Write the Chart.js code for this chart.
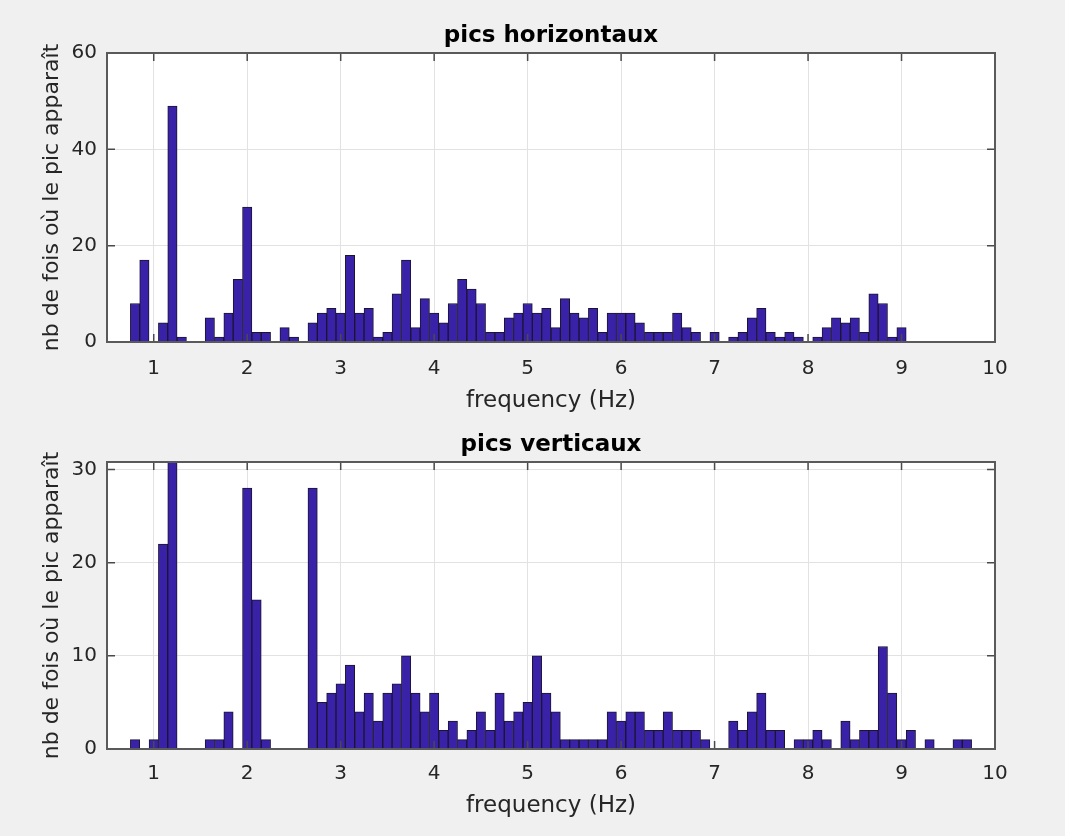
<!DOCTYPE html>
<html>
<head>
<meta charset="utf-8">
<script src="https://cdn.jsdelivr.net/npm/chart.js@4.4.1/dist/chart.umd.min.js"></script>
<style>
  body { margin: 0; background: #f0f0f0; }
  .pane { position: absolute; left: 0; width: 1065px; height: 418px; }
</style>
</head>
<body>
<div class="pane" style="top:0"><canvas id="horizCanvas"></canvas></div>
<div class="pane" style="top:418px"><canvas id="vertCanvas"></canvas></div>
<script>
// bin centres (Hz), 0.1 Hz wide
var binCenters = [0.8, 0.9, 1.0, 1.1, 1.2, 1.3, 1.4, 1.5, 1.6, 1.7,
                  1.8, 1.9, 2.0, 2.1, 2.2, 2.3, 2.4, 2.5, 2.6, 2.7,
                  2.8, 2.9, 3.0, 3.1, 3.2, 3.3, 3.4, 3.5, 3.6, 3.7,
                  3.8, 3.9, 4.0, 4.1, 4.2, 4.3, 4.4, 4.5, 4.6, 4.7,
                  4.8, 4.9, 5.0, 5.1, 5.2, 5.3, 5.4, 5.5, 5.6, 5.7,
                  5.8, 5.9, 6.0, 6.1, 6.2, 6.3, 6.4, 6.5, 6.6, 6.7,
                  6.8, 6.9, 7.0, 7.1, 7.2, 7.3, 7.4, 7.5, 7.6, 7.7,
                  7.8, 7.9, 8.0, 8.1, 8.2, 8.3, 8.4, 8.5, 8.6, 8.7,
                  8.8, 8.9, 9.0, 9.1, 9.2, 9.3, 9.4, 9.5, 9.6, 9.7];

var picsHorizontaux = [8, 17, 0, 4, 49, 1, 0, 0, 5, 1,
                       6, 13, 28, 2, 2, 0, 3, 1, 0, 4,
                       6, 7, 6, 18, 6, 7, 1, 2, 10, 17,
                       3, 9, 6, 4, 8, 13, 11, 8, 2, 2,
                       5, 6, 8, 6, 7, 3, 9, 6, 5, 7,
                       2, 6, 6, 6, 4, 2, 2, 2, 6, 3,
                       2, 0, 2, 0, 1, 2, 5, 7, 2, 1,
                       2, 1, 0, 1, 3, 5, 4, 5, 2, 10,
                       8, 1, 3, 0, 0, 0, 0, 0, 0, 0];

var picsVerticaux = [1, 0, 1, 22, 31, 0, 0, 0, 1, 1,
                     4, 0, 28, 16, 1, 0, 0, 0, 0, 28,
                     5, 6, 7, 9, 4, 6, 3, 6, 7, 10,
                     6, 4, 6, 2, 3, 1, 2, 4, 2, 6,
                     3, 4, 5, 10, 6, 4, 1, 1, 1, 1,
                     1, 4, 3, 4, 4, 2, 2, 4, 2, 2,
                     2, 1, 0, 0, 3, 2, 4, 6, 2, 2,
                     0, 1, 1, 2, 1, 0, 3, 1, 2, 2,
                     11, 6, 1, 2, 0, 1, 0, 0, 1, 1];

var xTicks = [1, 2, 3, 4, 5, 6, 7, 8, 9, 10];
var yTicksHoriz = [0, 20, 40, 60];
var yTicksVert = [0, 10, 20, 30];

var FONT = '"DejaVu Sans", sans-serif';
var TEXT = '#262626';

// white axes background, title over the axes, full box and inward ticks like matlab
var axesBox = {
    id: 'axesBox',
    beforeDraw: function(chart) {
        var a = chart.chartArea, ctx = chart.ctx;
        ctx.save();
        ctx.fillStyle = '#ffffff';
        ctx.fillRect(a.left, a.top, a.right - a.left, a.bottom - a.top);
        ctx.restore();
    },
    afterDraw: function(chart, args, opts) {
        var a = chart.chartArea, ctx = chart.ctx;
        var xs = chart.scales.x, ys = chart.scales.y;
        ctx.save();
        ctx.strokeStyle = '#4a4a4a';
        ctx.lineWidth = 1.5;
        ctx.beginPath();
        xs.ticks.forEach(function(t) {
            var px = xs.getPixelForValue(t.value);
            ctx.moveTo(px, a.bottom); ctx.lineTo(px, a.bottom - 8);
            ctx.moveTo(px, a.top); ctx.lineTo(px, a.top + 8);
        });
        ys.ticks.forEach(function(t) {
            var py = ys.getPixelForValue(t.value);
            ctx.moveTo(a.left, py); ctx.lineTo(a.left + 8, py);
            ctx.moveTo(a.right, py); ctx.lineTo(a.right - 8, py);
        });
        ctx.stroke();
        ctx.lineWidth = 2;
        ctx.strokeStyle = '#5a5a5a';
        ctx.strokeRect(a.left, a.top, a.right - a.left, a.bottom - a.top);

        ctx.fillStyle = '#000';
        ctx.font = 'bold 23px ' + FONT;
        ctx.textAlign = 'center';
        ctx.textBaseline = 'middle';
        ctx.fillText(opts.title, (a.left + a.right) / 2, opts.titleY);
        ctx.restore();
    }
};

function makeHist(id, title, values, yMax, yTicks, lay) {
    var ctx = document.getElementById(id).getContext('2d');
    return new Chart(ctx, {
        type: 'bar',
        data: {
            datasets: [{
                data: binCenters.map(function(x, i) { return {x: x, y: values[i]}; }),
                backgroundColor: '#3a22a8',
                borderColor: '#1c1430',
                borderWidth: 1,
                barPercentage: 1,
                categoryPercentage: 1
            }]
        },
        options: {
            responsive: true,
            maintainAspectRatio: false,
            animation: false,
            layout: { padding: { left: 0, right: 70, top: lay.top, bottom: 0 } },
            plugins: {
                legend: { display: false },
                tooltip: { enabled: false },
                title: { display: false },
                axesBox: { title: title, titleY: lay.titleY }
            },
            scales: {
                x: {
                    type: 'linear',
                    min: 0.5,
                    max: 10,
                    offset: false,
                    afterBuildTicks: function(s) { s.ticks = xTicks.map(function(v) { return {value: v}; }); },
                    afterFit: function(s) { s.height = lay.xHeight; },
                    grid: { color: '#e2e2e2', lineWidth: 1, offset: false, drawTicks: false },
                    border: { display: false },
                    ticks: { color: TEXT, padding: lay.xTickPad, font: { family: FONT, size: 20 }, maxRotation: 0 },
                    title: {
                        display: true,
                        text: 'frequency (Hz)',
                        color: TEXT,
                        font: { family: FONT, size: 23 },
                        padding: { top: 0, bottom: lay.xTitleBottom }
                    }
                },
                y: {
                    min: 0,
                    max: yMax,
                    afterBuildTicks: function(s) { s.ticks = yTicks.map(function(v) { return {value: v}; }); },
                    afterFit: function(s) { s.width = 107; },
                    grid: { color: '#e2e2e2', lineWidth: 1, drawTicks: false },
                    border: { display: false },
                    ticks: { color: TEXT, padding: 10, font: { family: FONT, size: 20 } },
                    title: {
                        display: true,
                        text: 'nb de fois où le pic apparaît',
                        color: TEXT,
                        font: { family: FONT, size: 22 },
                        padding: { top: 39, bottom: 0 }
                    }
                }
            }
        },
        plugins: [axesBox]
    });
}

makeHist('horizCanvas', 'pics horizontaux', picsHorizontaux, 60, yTicksHoriz,
         { top: 53, titleY: 36, xHeight: 76, xTickPad: 15, xTitleBottom: 3 });
makeHist('vertCanvas', 'pics verticaux', picsVerticaux, 30.8, yTicksVert,
         { top: 44, titleY: 27, xHeight: 87, xTickPad: 13, xTitleBottom: 16 });
</script>
</body>
</html>
